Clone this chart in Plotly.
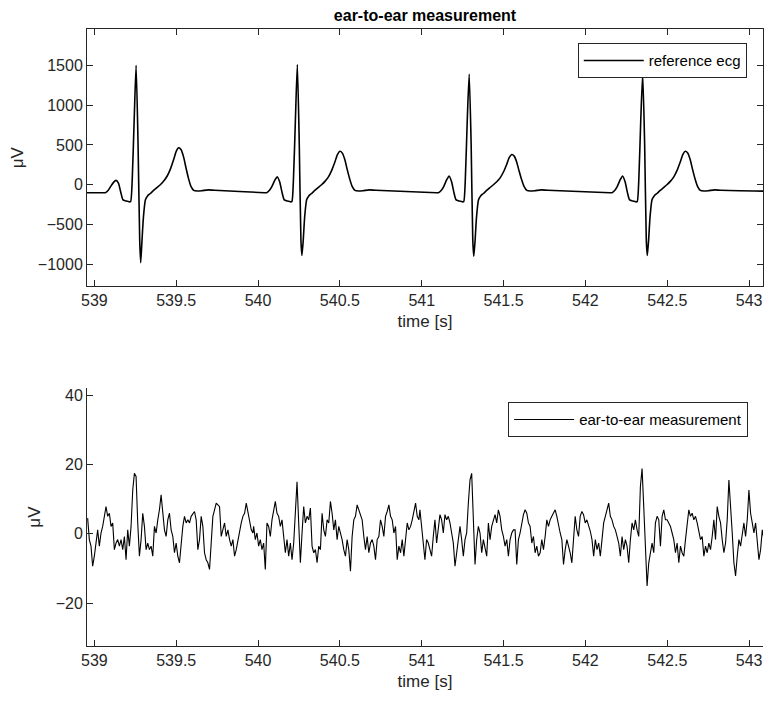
import plotly.graph_objects as go

# ---------------- reference ECG (top) ----------------
r_times = [539.255, 540.24, 541.29, 542.35]
p_amp = [55, 100, 110, 110]
r_amp = [1500, 1510, 1390, 1390]
s_amp = [-980, -890, -900, -890]
t_amp = [465, 420, 380, 420]
# beat template: offsets from R peak (s) and shape values for beat 1
tpl_off = [-0.20, -0.188, -0.17, -0.155, -0.138, -0.123, -0.108, -0.093, -0.080, -0.06, -0.040,
           -0.033, -0.024, -0.012, 0.0, 0.012, 0.022, 0.028, 0.036, 0.045, 0.057, 0.07, 0.087,
           0.105, 0.125, 0.148, 0.17, 0.19, 0.21, 0.23, 0.245, 0.26, 0.275, 0.29, 0.305,
           0.32, 0.335, 0.352, 0.375, 0.40, 0.44, 0.48]
tpl_val = [-100, -100, -70, -20, 30, 55, 20, -100, -190, -205, -215,
           -210, 50, 800, 1500, 500, -700, -980, -700, -400, -190, -140, -110,
           -75, -40, 0, 50, 110, 200, 320, 420, 465, 440, 350, 210,
           80, -20, -70, -78, -75, -65, -70]
ecg_start = (538.955, -100)
ecg_end = (543.085, -80)

# ---------------- ear-to-ear measurement (bottom) ----------------
step = 0.0102
secA_start = 538.959
secA = [4.5,-1.7,-3.6,-9.4,-6.5,-1.7,1.1,-3.6,0.2,2.1,5,7.8,5,5.9,2.1,3.1,-4.6,-2.7,-1.7,-3.6,
        -1.7,-4.6,-0.8,-7.5,1.1,-3.6,2.1,12.6,17.4,16.5,3.1,-6.5,-1.7,5.9,2.1,-4.6,-2.7,-4.6,-3.6,-6.5,
        2.1,0.2,4,6.9,11.2,6.9,1.1,-0.8,4,5.9,1.1,-0.8,-5.5,-2.7,-6.5,-8.4,-1.7,2.1,5,3.1,
        4,3.1,5,5.9,6.4,4,-4.6,-1.7,5,2.1,-5.5,-7.5,-8.4,-10.3,-1.7,5,6.9,8.8,8.3,7.8,
        -0.8,1.1,3.1,-0.8,1.1,-1.7,-3.6,-1.7,-6.5,-4.6,-1.7,0.2,3.1,5,5.9,8.8,5.9,4,1.1,0.2]
secB_start = 539.973
secB = [2.1,-1.7,0.2,-3.6,-1.7,-4.6,-2.7,-10.3,3.1,2.1,-0.8,4,6.9,9.3,5.9,5,2.1,4,-0.8,-5.5,
        -1.7,-6.5,-2.7,-7.5,-2.7,5.9,15,3.1,-8.4,0.2,7.8,3.1,5,4,7.4,-3.6,-5.5,-4.6,-8.4,-3.6,
        -4.6,5.9,1.1,-0.8,4,3.1,9.3,5.9,1.1,4,-1.7,2.1,0.2,-1.7,-4.6,-6.5,-1.7,-4.6,-10.8,-0.8,
        4,5,8.3,6.9,5,4,-0.8,-4.6,-0.8,-5.5,-2.7,-1.7,-3.6,-7.5,-1.7,-0.8,4,2.1,-0.8,5,
        6.4,8.3,5,4,0.2,2.1,-7.5,-3.6,-5.5,-1.7,-6.5,-0.8,3.1,1.1,2.1,4,6.9,8.8,5,4]
secC_start = 540.989
secC = [6.9,2.1,-0.8,-7.5,-1.7,-2.7,-4.6,-6.5,-0.8,4,-2.7,2.1,5.5,4,0.2,5.5,4,5,3.1,0.2,
        -2.7,-9.4,-5.5,-1.7,2.1,-1.7,-6.5,-1.7,0.2,8.8,15.5,17.4,3.1,-8.9,-1.7,2.1,0.2,-5.5,-1.7,-4.6,
        -6.5,3.1,-1.7,2.1,4,5.5,3.1,6.9,5,1.1,-0.8,-3.6,-1.7,-6.5,-1.7,0.2,1.1,1.1,-8.9,-1.7,
        0.2,3.1,5.5,6.9,5.9,3.1,2.1,-2.7,-0.8,-5.5,-3.6,-6.5,-5.5,-1.7,-4.6,-0.8,4,2.1,4,5,
        5.9,6.9,5,2.1,0.2,-1.7,-8.9,-4.6,-1.7,-3.6,-5.5,-8.4,-1.7,5,1.1,-0.8,5,6.4,5.5,3.1,4]
secD_start = 542.030
secD = [0.7,-1.7,-6.5,-1.7,-4.6,-2.7,-6.5,-1.7,3.1,5,6.9,8.8,5,4,2.1,1.1,-0.8,-2.7,-6.5,-0.8,
        -4.6,-1.7,-3.6,-8.4,-1.7,3.1,1.1,4,1.1,-0.8,13.6,18.8,7.8,-4.6,-15.1,-8.4,-5.5,-2.7,-5.5,3.1,
        5,4,-3.6,5,6.9,4,4,3.1,2.1,0.2,-1.7,-5.5,-2.7,-8.4,-3.6,-5.5,-6.5,-1.7,2.1,6.9,
        5,5.9,4,5,3.1,1.1,-1.7,-0.8,-6.5,-3.6,-5.5,-2.7,-4.6,-0.8,4,-1.7,7.8,5,3.1,-1.7,
        -5.5,-2.7,4,15.5,5.9,0.2,-8.4,-12.2,-6.5,-1.7,-3.6,0.2,3.1,-0.8,4,12.6,5.9,3.1,0.2,3.1,
        -1.7,-7.5,-4.6,1.1,-1.7]

# ---- build series ----
ecg_t = [ecg_start[0]]
ecg_v = [ecg_start[1]]
for i, tr in enumerate(r_times):
    for off, val in zip(tpl_off, tpl_val):
        if off == 0.0:
            v = r_amp[i]
        elif off == 0.028:
            v = s_amp[i]
        elif -0.16 <= off <= -0.10:
            v = val * p_amp[i] / 55 if val > 0 else val
        elif 0.17 <= off <= 0.32:
            v = val * t_amp[i] / 465
        else:
            v = val
        ecg_t.append(tr + off)
        ecg_v.append(v)
ecg_t.append(ecg_end[0])
ecg_v.append(ecg_end[1])

ear_t, ear_v = [], []
for st, sec in [(secA_start, secA), (secB_start, secB), (secC_start, secC), (secD_start, secD)]:
    for k, v in enumerate(sec):
        t = st + k * step
        if ear_t and t <= ear_t[-1]:
            continue
        ear_t.append(t)
        ear_v.append(v)

fig = go.Figure()
fig.add_trace(go.Scatter(x=ecg_t, y=ecg_v, mode="lines", line=dict(color="black", width=1.6, shape="spline", smoothing=0.6),
                         name="reference ecg", xaxis="x", yaxis="y", legend="legend"))
fig.add_trace(go.Scatter(x=ear_t, y=ear_v, mode="lines", line=dict(color="black", width=1.1),
                         name="ear-to-ear measurement", xaxis="x2", yaxis="y2", legend="legend2"))

font = "Liberation Sans, Arial, sans-serif"
xticks = [539, 539.5, 540, 540.5, 541, 541.5, 542, 542.5, 543]
xlab = ["539", "539.5", "540", "540.5", "541", "541.5", "542", "542.5", "543"]
common_x = dict(range=[538.955, 543.085], tickvals=xticks, ticktext=xlab, ticks="inside", ticklen=6,
                showgrid=False, zeroline=False, showline=True, linecolor="#262626", linewidth=1,
                tickcolor="#262626", tickfont=dict(size=16, color="#262626"), automargin=False,
                title=dict(text="time [s]", font=dict(size=17, color="#262626"), standoff=6))
ycommon = dict(ticks="inside", ticklen=6, showgrid=False, zeroline=False, showline=True,
               linecolor="#262626", tickcolor="#262626", tickfont=dict(size=16, color="#262626"),
               automargin=False, title=dict(text="μV", font=dict(size=17, color="#262626"), standoff=10))
fig.update_layout(
    width=765, height=705, paper_bgcolor="white", plot_bgcolor="white",
    margin=dict(l=79, r=10, t=21, b=67),
    font=dict(family=font, color="#262626"),
    title=dict(text="<b>ear-to-ear measurement</b>", x=(79 + 755) / 2 / 765, xanchor="center",
               y=1 - 7 / 705, yanchor="middle", font=dict(size=16, color="black"), automargin=False),
    xaxis=dict(common_x, anchor="y", mirror="ticks"),
    yaxis=dict(ycommon, domain=[0.583, 1], range=[-1276, 1957], tickvals=[-1000, -500, 0, 500, 1000, 1500],
               mirror="ticks"),
    xaxis2=dict(common_x, anchor="y2"),
    yaxis2=dict(ycommon, domain=[0, 0.418], range=[-32.4, 42], tickvals=[-20, 0, 20, 40]),
    legend=dict(x=0.976, y=0.977, xanchor="right", yanchor="top", bgcolor="white",
                bordercolor="#262626", borderwidth=1, font=dict(size=15, color="black"),
                itemwidth=60),
    legend2=dict(x=0.978, y=0.395, xanchor="right", yanchor="top", bgcolor="white",
                 bordercolor="#262626", borderwidth=1, font=dict(size=15, color="black"),
                 itemwidth=60),
    showlegend=True,
)
fig.write_html("out.html")
